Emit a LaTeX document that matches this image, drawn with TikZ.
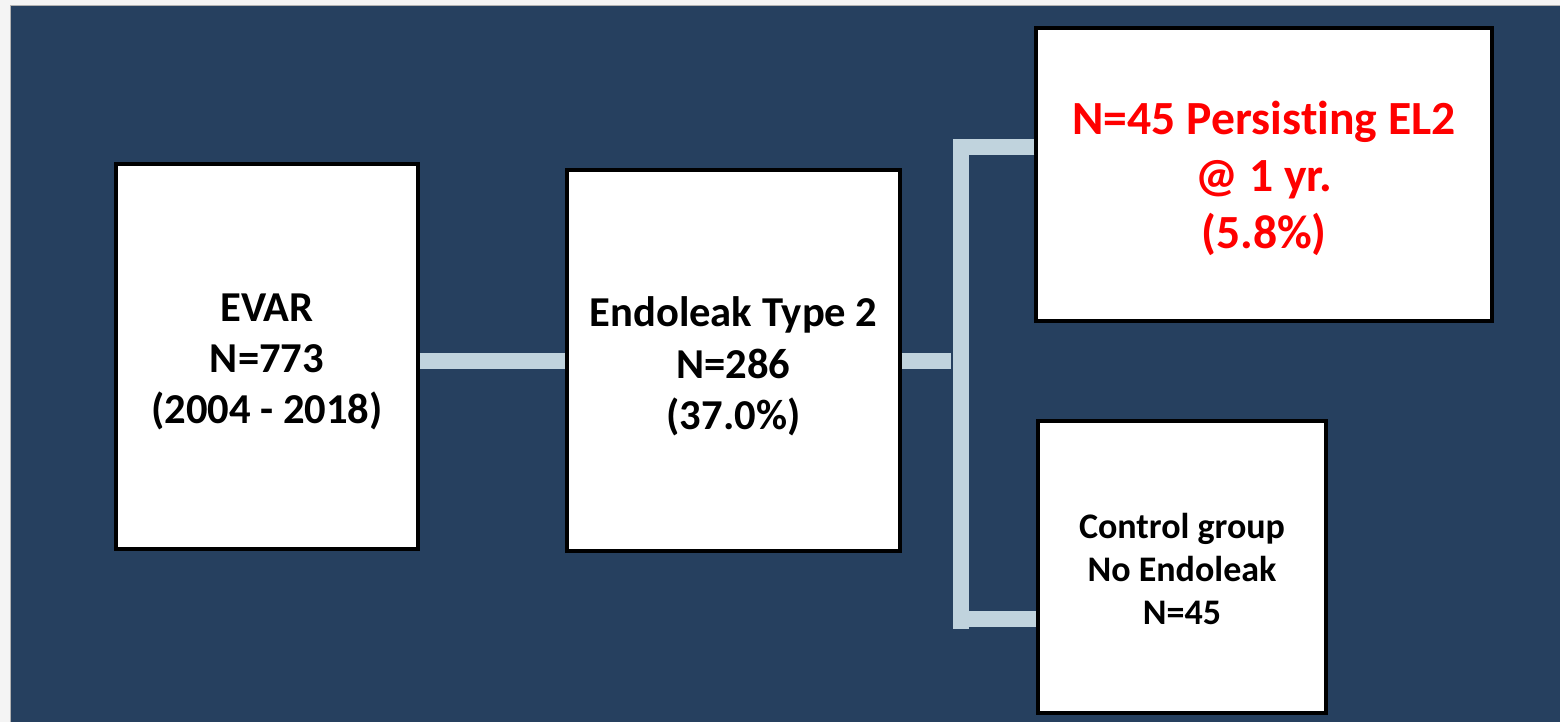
\documentclass[tikz,border=0pt]{standalone}
\usepackage{fontspec}
\setmainfont[Ligatures=NoCommon]{Carlito}
\definecolor{navy}{HTML}{26405F}
\definecolor{conncol}{HTML}{C0D3DD}
\definecolor{margin}{HTML}{F4F4F4}
\definecolor{elred}{HTML}{FF0000}
\begin{document}
\begin{tikzpicture}[x=0.5pt,y=-0.5pt,
  box/.style={draw=black,line width=1.75pt,fill=white,rectangle,inner sep=0pt},
  txt/.style={align=center,inner sep=0pt},
  conn/.style={draw=conncol,line width=8pt,line join=miter},
  bigtxt/.style={font=\bfseries\fontsize{21.3}{25.7}\selectfont},
  redtxt/.style={font=\bfseries\fontsize{23.8}{28.7}\selectfont,text=elred},
  smalltxt/.style={font=\bfseries\fontsize{18}{21.5}\selectfont}]
\useasboundingbox (0,0) rectangle (1560,722);
\fill[margin] (0,0) rectangle (1560,722);
\fill[navy] (10,6) rectangle (1560,722);
\draw[gray!60,line width=0.5pt] (10,722) -- (10,6) -- (1560,6);

\node[box,minimum width=151pt,minimum height=192.5pt] (evar) at (267,356.5) {};
\node[box,minimum width=166.5pt,minimum height=190.5pt] (endo) at (733.5,360.5) {};
\node[box,minimum width=228pt,minimum height=146.5pt] (pers) at (1264,174.5) {};
\node[box,minimum width=144pt,minimum height=146pt] (ctrl) at (1182,567) {};

\node[txt,bigtxt] (evart) at (267,362) {EVAR\\N=773\\(2004 - 2018)};
\node[txt,bigtxt] (endot) at (733.5,366.5) {Endoleak Type 2\\N=286\\(37.0\%)};
\node[txt,redtxt] (perst) at (1264,178.5) {N=45 Persis\kern0pt ting EL2\\@ 1 yr.\\(5.8\%)};
\node[txt,smalltxt] (ctrlt) at (1182,569) {Control group\\No Endoleak\\N=45};

\coordinate (mid) at (0,361);
\coordinate (stub) at (951,361);
\coordinate (top) at (961,147);
\coordinate (bot) at (961,629);
\coordinate (low) at (961,619);

\draw[conn] (evar.east |- mid) -- (endo.west |- mid);
\draw[conn] (endo.east |- mid) -- (stub);
\draw[conn] (pers.west |- top) -- (top) -- (bot);
\draw[conn] (low) -- (ctrl.west |- low);
\end{tikzpicture}
\end{document}
